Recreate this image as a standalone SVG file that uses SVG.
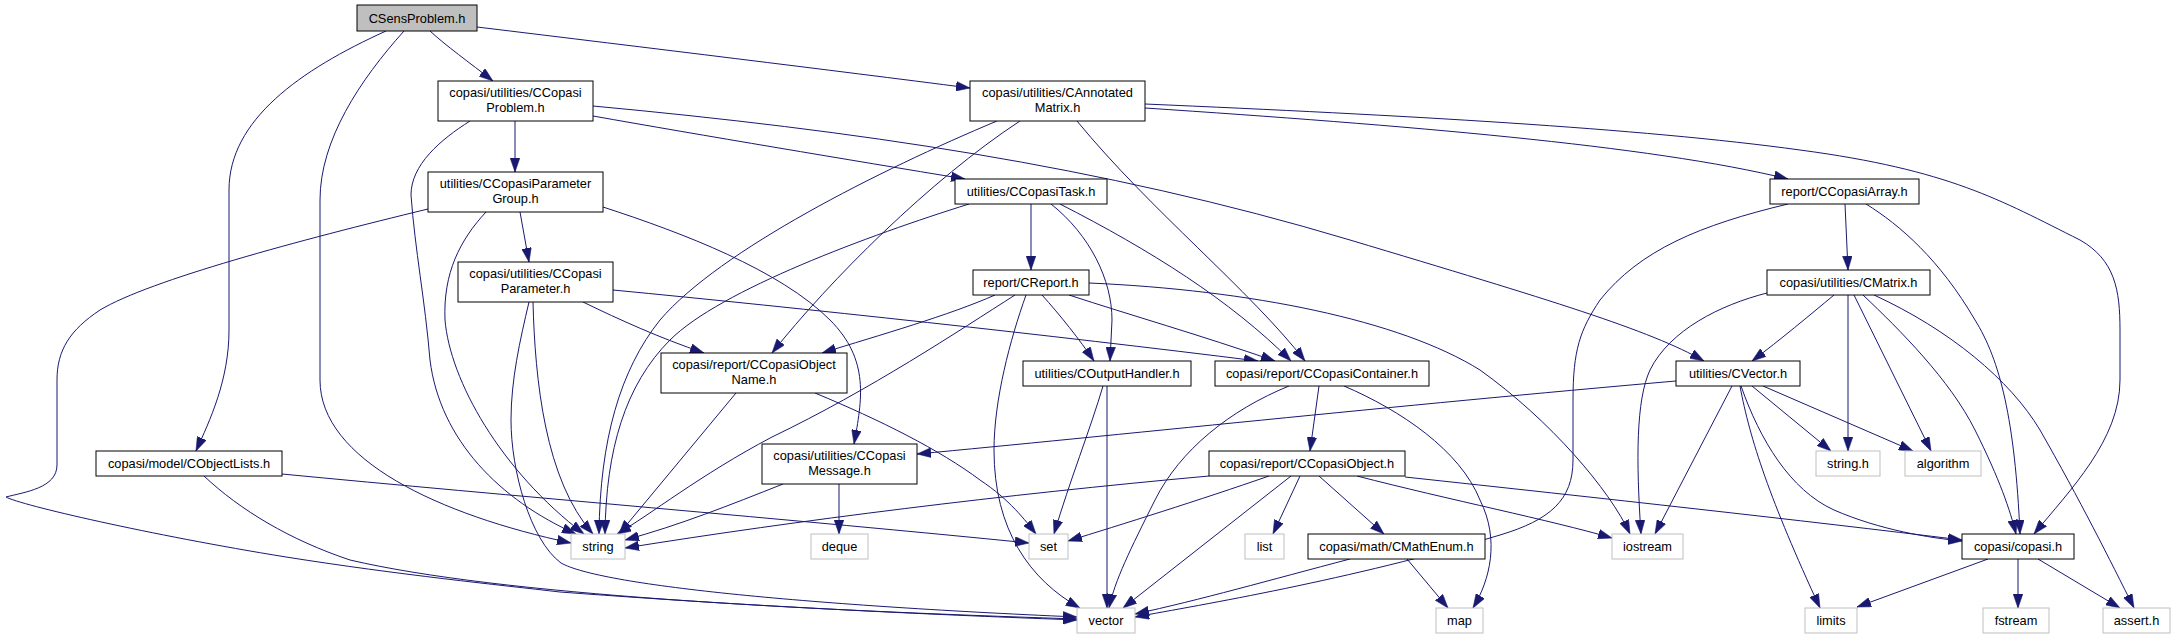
<svg xmlns="http://www.w3.org/2000/svg" width="2174" height="640" viewBox="0 0 2174 640">
<style>
.n rect{fill:#fff;stroke:#000;stroke-width:1}
.x rect{fill:#fff;stroke:#bfbfbf;stroke-width:1}
.r rect{fill:#bfbfbf;stroke:#000;stroke-width:1}
text{font-family:"Liberation Sans",Arial,Helvetica,sans-serif;font-size:12.8px;fill:#000;text-anchor:middle}
#edges path{fill:none;stroke:#191970;stroke-width:1;marker-end:url(#ah)}
</style>
<defs>
<marker id="ah" markerUnits="userSpaceOnUse" markerWidth="14" markerHeight="10" refX="13" refY="4.5" orient="auto" viewBox="0 0 13 9"><path d="M0,0 L13,4.5 L0,9 z" fill="#191970" stroke="#191970" stroke-width="0.5"/></marker>
</defs>
<rect width="2174" height="640" fill="#fff"/>
<g id="edges">
<path d="M430,31 C445,45 470,63 493,81"/>
<path d="M477,27 C650,48 830,70 970,88"/>
<path d="M386,31 C300,70 229,120 229,190 L229,330 C229,380 210,420 196,451"/>
<path d="M404,31 C360,80 320,140 320,200 L320,380 C320,460 440,515 571,543"/>
<path d="M515,121 L515,172"/>
<path d="M593,116 C700,135 850,160 965,179"/>
<path d="M593,106 C850,130 1100,165 1350,240 C1550,300 1650,330 1704,361"/>
<path d="M470,121 C440,140 411,165 411,195 C415,250 425,300 430,360 C440,440 500,500 576,534"/>
<path d="M520,212 L529,262"/>
<path d="M603,207 C683,233 780,270 830,320 C870,360 862,400 854,444"/>
<path d="M486,212 C460,240 443,273 445,320 C450,380 500,470 584,534"/>
<path d="M428,209 C300,240 150,280 100,310 C70,330 57,350 57,380 L57,465 C57,488 25,492 6,497 C20,505 150,535 286,557 C400,575 500,585 560,592 C800,610 1000,617 1077,620"/>
<path d="M583,302 C620,320 660,338 704,353"/>
<path d="M613,290 C800,308 1050,335 1258,361"/>
<path d="M533,302 C535,380 545,480 593,534"/>
<path d="M529,302 C520,340 511,380 511,420 C511,470 530,540 561,563 C600,585 800,605 1077,617"/>
<path d="M1145,108 C1400,125 1650,145 1788,179"/>
<path d="M1077,121 C1150,210 1250,290 1305,361"/>
<path d="M1020,121 C930,180 830,280 772,353"/>
<path d="M997,121 C880,170 720,250 660,320 C620,370 600,440 599,534"/>
<path d="M1145,104 C1400,115 1640,128 1800,150 C1950,170 2000,200 2080,240 C2115,260 2120,290 2120,330 L2120,380 C2120,440 2070,490 2034,534"/>
<path d="M1031,204 L1031,270"/>
<path d="M1051,204 C1090,235 1112,280 1112,320 L1110,361"/>
<path d="M1060,204 C1150,250 1230,300 1291,361"/>
<path d="M969,204 C870,235 720,290 670,340 C625,385 606,450 605,534"/>
<path d="M995,295 C950,315 880,335 822,353"/>
<path d="M1069,295 C1130,315 1200,335 1275,361"/>
<path d="M1042,295 C1060,315 1080,340 1094,361"/>
<path d="M1015,295 C960,330 870,390 772,437 C700,475 650,515 617,534"/>
<path d="M1026,295 C1010,340 994,400 994,450 C994,530 1030,580 1080,608"/>
<path d="M1089,283 C1250,290 1400,320 1480,370 C1550,420 1610,490 1630,534"/>
<path d="M1845,204 L1848,270"/>
<path d="M1788,204 C1700,225 1640,250 1600,300 C1580,330 1573,350 1573,400 L1573,460 C1573,500 1550,520 1500,535 C1350,580 1200,605 1135,617"/>
<path d="M1866,204 C1900,225 1940,260 1975,320 C2000,360 2015,420 2020,534"/>
<path d="M1834,295 C1810,315 1780,340 1752,361"/>
<path d="M1767,293 C1720,305 1670,330 1650,370 C1636,400 1636,460 1641,534"/>
<path d="M1848,295 L1848,451"/>
<path d="M1854,295 L1931,451"/>
<path d="M1863,295 C1900,330 1950,380 1975,430 C2000,480 2010,510 2016,534"/>
<path d="M1874,295 C1950,330 2010,380 2040,430 C2080,500 2110,560 2134,608"/>
<path d="M1732,386 L1655,534"/>
<path d="M1752,386 L1831,451"/>
<path d="M1763,386 L1913,451"/>
<path d="M1740,386 C1750,440 1770,500 1820,608"/>
<path d="M1741,386 C1760,440 1790,490 1834,510 C1880,530 1930,538 1962,541"/>
<path d="M1676,381 C1400,405 1100,437 917,454"/>
<path d="M282,474 C500,495 800,520 1029,543"/>
<path d="M204,476 C240,510 290,540 350,560 C500,595 800,610 1077,619"/>
<path d="M736,393 L619,534"/>
<path d="M815,393 C880,420 940,450 980,480 C1010,500 1025,520 1036,534"/>
<path d="M1103,386 C1090,430 1070,480 1054,534"/>
<path d="M1107,386 L1107,608"/>
<path d="M1319,386 L1310,451"/>
<path d="M1289,386 C1230,410 1180,450 1155,500 C1130,550 1115,580 1109,608"/>
<path d="M1344,386 C1400,410 1460,450 1480,500 C1500,540 1490,580 1473,608"/>
<path d="M783,484 C730,505 680,525 625,540"/>
<path d="M839,484 L839,534"/>
<path d="M1300,476 L1273,534"/>
<path d="M1319,476 L1384,534"/>
<path d="M1209,476 C1000,495 800,520 625,548"/>
<path d="M1269,476 C1200,500 1120,525 1068,541"/>
<path d="M1291,476 L1123,608"/>
<path d="M1357,476 C1450,500 1550,520 1612,538"/>
<path d="M1405,477 C1600,498 1800,520 1962,540"/>
<path d="M1350,559 C1270,580 1200,600 1135,614"/>
<path d="M1407,559 L1448,608"/>
<path d="M1988,559 L1857,607"/>
<path d="M2018,559 L2018,608"/>
<path d="M2038,559 L2120,608"/>
</g>
<g id="CSensProblem" class="r"><rect x="357" y="5" width="120" height="26"/><text x="417" y="22.5">CSensProblem.h</text></g>
<g id="CCopasiProblem" class="n"><rect x="438" y="81" width="155" height="40"/><text x="515.5" y="97">copasi/utilities/CCopasi</text><text x="515.5" y="112">Problem.h</text></g>
<g id="CAnnotatedMatrix" class="n"><rect x="970" y="81" width="175" height="40"/><text x="1057.5" y="97">copasi/utilities/CAnnotated</text><text x="1057.5" y="112">Matrix.h</text></g>
<g id="CCopasiParameterGroup" class="n"><rect x="428" y="172" width="175" height="40"/><text x="515.5" y="188">utilities/CCopasiParameter</text><text x="515.5" y="203">Group.h</text></g>
<g id="CCopasiTask" class="n"><rect x="955" y="179" width="152" height="25"/><text x="1031" y="196">utilities/CCopasiTask.h</text></g>
<g id="CCopasiArray" class="n"><rect x="1770" y="179" width="149" height="25"/><text x="1844.5" y="196">report/CCopasiArray.h</text></g>
<g id="CCopasiParameter" class="n"><rect x="458" y="262" width="155" height="40"/><text x="535.5" y="278">copasi/utilities/CCopasi</text><text x="535.5" y="293">Parameter.h</text></g>
<g id="CReport" class="n"><rect x="973" y="270" width="116" height="25"/><text x="1031" y="287">report/CReport.h</text></g>
<g id="CMatrix" class="n"><rect x="1767" y="270" width="163" height="25"/><text x="1848.5" y="287">copasi/utilities/CMatrix.h</text></g>
<g id="CCopasiObjectName" class="n"><rect x="661" y="353" width="186" height="40"/><text x="754" y="369">copasi/report/CCopasiObject</text><text x="754" y="384">Name.h</text></g>
<g id="COutputHandler" class="n"><rect x="1023" y="361" width="168" height="25"/><text x="1107" y="378">utilities/COutputHandler.h</text></g>
<g id="CCopasiContainer" class="n"><rect x="1215" y="361" width="214" height="25"/><text x="1322" y="378">copasi/report/CCopasiContainer.h</text></g>
<g id="CVector" class="n"><rect x="1676" y="361" width="124" height="25"/><text x="1738" y="378">utilities/CVector.h</text></g>
<g id="CCopasiMessage" class="n"><rect x="762" y="444" width="155" height="40"/><text x="839.5" y="460">copasi/utilities/CCopasi</text><text x="839.5" y="475">Message.h</text></g>
<g id="CObjectLists" class="n"><rect x="96" y="451" width="186" height="25"/><text x="189" y="468">copasi/model/CObjectLists.h</text></g>
<g id="CCopasiObject" class="n"><rect x="1209" y="451" width="196" height="25"/><text x="1307" y="468">copasi/report/CCopasiObject.h</text></g>
<g id="string_h" class="x"><rect x="1816" y="451" width="64" height="25"/><text x="1848" y="468">string.h</text></g>
<g id="algorithm" class="x"><rect x="1905" y="451" width="76" height="25"/><text x="1943" y="468">algorithm</text></g>
<g id="string" class="x"><rect x="571" y="534" width="54" height="25"/><text x="598" y="551">string</text></g>
<g id="deque" class="x"><rect x="811" y="534" width="57" height="25"/><text x="839.5" y="551">deque</text></g>
<g id="set" class="x"><rect x="1029" y="534" width="39" height="25"/><text x="1048.5" y="551">set</text></g>
<g id="list" class="x"><rect x="1245" y="534" width="39" height="25"/><text x="1264.5" y="551">list</text></g>
<g id="CMathEnum" class="n"><rect x="1308" y="534" width="177" height="25"/><text x="1396.5" y="551">copasi/math/CMathEnum.h</text></g>
<g id="iostream" class="x"><rect x="1612" y="534" width="71" height="25"/><text x="1647.5" y="551">iostream</text></g>
<g id="copasi_h" class="n"><rect x="1962" y="534" width="112" height="25"/><text x="2018" y="551">copasi/copasi.h</text></g>
<g id="vector" class="x"><rect x="1077" y="608" width="58" height="25"/><text x="1106" y="625">vector</text></g>
<g id="map" class="x"><rect x="1436" y="608" width="47" height="25"/><text x="1459.5" y="625">map</text></g>
<g id="limits" class="x"><rect x="1805" y="608" width="52" height="25"/><text x="1831" y="625">limits</text></g>
<g id="fstream" class="x"><rect x="1983" y="608" width="66" height="25"/><text x="2016" y="625">fstream</text></g>
<g id="assert_h" class="x"><rect x="2103" y="608" width="67" height="25"/><text x="2136.5" y="625">assert.h</text></g>
</svg>
